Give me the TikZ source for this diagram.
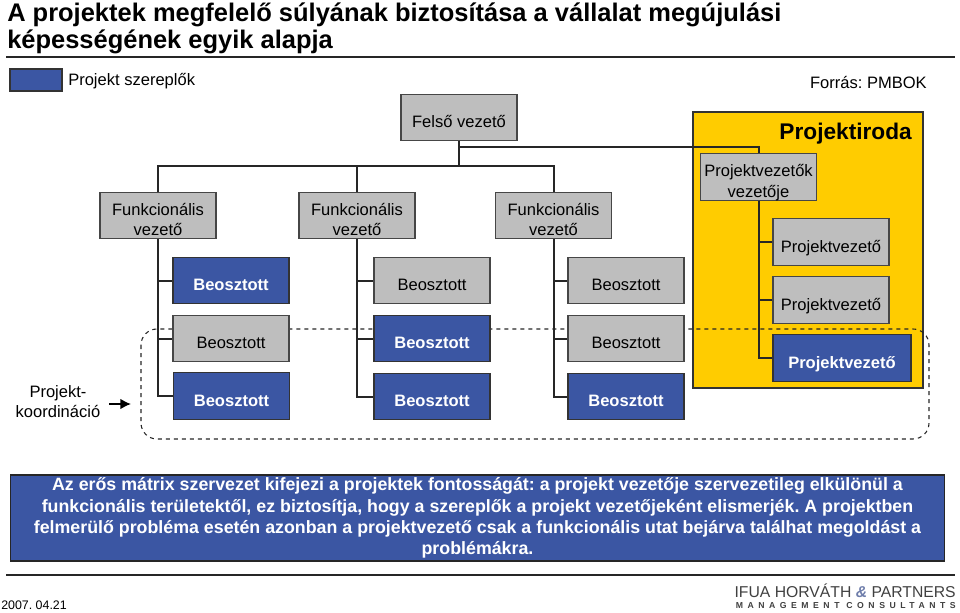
\documentclass[tikz,border=0pt]{standalone}
\usepackage{fontspec}
\usetikzlibrary{arrows.meta}
\setmainfont{Liberation Sans}
\newfontfamily\logofont[LetterSpace=52]{Liberation Sans}
\frenchspacing
\definecolor{boxblue}{RGB}{59,86,163}
\definecolor{boxgray}{RGB}{190,190,190}
\definecolor{pmoyellow}{RGB}{255,204,0}
\definecolor{edgegray}{RGB}{70,70,70}
\definecolor{logoblue}{RGB}{110,125,170}
\tikzset{
  grayrole/.style={draw=edgegray, fill=boxgray, line width=0.9pt, minimum width=87pt, minimum height=35pt, inner sep=0pt, align=center, font=\fontsize{12.4}{15}\selectfont, text height=15pt, text depth=0pt},
  bluerole/.style={grayrole, draw=black!80, fill=boxblue, text=white, font=\fontsize{12.4}{15}\selectfont\bfseries},
  twoline/.style={grayrole, text height=30pt, text depth=0pt},
  conn/.style={line width=1.5pt, black!85}
}
\begin{document}
\begin{tikzpicture}[x=0.75pt, y=-0.75pt]
\useasboundingbox (0,0) rectangle (960,613);

% title and rules
\node [anchor=west, inner sep=0pt, font=\fontsize{19.1}{20.3}\selectfont\bfseries, align=left] (title) at (7,28.5) {A projektek megfelelő súlyának biztosítása a vállalat megújulási\\képességének egyik alapja};
\coordinate (rulea) at (6,57);
\coordinate (ruleb) at (955,57);
\draw [line width=1pt, black!85] (rulea) -- (ruleb);
\coordinate (rulec) at (6,575);
\coordinate (ruled) at (955,575);
\draw [line width=1pt, black!85] (rulec) -- (ruled);

% legend
\node [bluerole, minimum width=39pt, minimum height=16.5pt] (legend) at (36,80) {};
\node [anchor=west, inner sep=0pt, font=\fontsize{12.4}{15}\selectfont] (legendtext) at (68,81.5) {Projekt szereplők};
\node [anchor=east, inner sep=0pt, font=\fontsize{12.4}{15}\selectfont] (source) at (927,82) {Forrás: PMBOK};

% project office background
\node [draw=black!80, fill=pmoyellow, line width=1pt, minimum width=172.5pt, minimum height=207pt, inner sep=0pt] (office) at (808,250) {};
\node [anchor=east, inner sep=0pt, font=\fontsize{17}{20}\selectfont\bfseries] (officetext) at (912,134) {Projektiroda};

% dashed frame
\draw [dashed, line width=0.8pt, rounded corners=12pt, black!85] (141,329) rectangle (929,439);

% boxes
\node [grayrole] (top) at (459,117.5) {Felső vezető};
\node [twoline] (func1) at (158,215.5) {Funkcionális\\vezető};
\node [twoline] (func2) at (357,215.5) {Funkcionális\\vezető};
\node [twoline] (func3) at (553.5,215.5) {Funkcionális\\vezető};

\node [bluerole] (b11) at (231,280.5) {Beosztott};
\node [grayrole] (b12) at (231,338.5) {Beosztott};
\node [bluerole] (b13) at (231.5,396) {Beosztott};
\node [grayrole] (b21) at (432,280.5) {Beosztott};
\node [bluerole] (b22) at (432,338.5) {Beosztott};
\node [bluerole] (b23) at (432,396.5) {Beosztott};
\node [grayrole] (b31) at (626,280.5) {Beosztott};
\node [grayrole] (b32) at (626,338.5) {Beosztott};
\node [bluerole] (b33) at (626,396.5) {Beosztott};

\node [twoline] (chief) at (758.5,177) {Projektvezetők\\vezetője};
\node [grayrole] (pm1) at (831,242) {Projektvezető};
\node [grayrole] (pm2) at (831,300) {Projektvezető};
\node [bluerole, minimum width=103.5pt] (pm3) at (842,358) {Projektvezető};

% connectors
\coordinate (busa) at (459,166);
\coordinate (busb) at (459,147);
\draw [conn] (top.south) -- (busa);
\draw [conn] (func1.north) |- (busa);
\draw [conn] (func2.north) -- (func2.north |- busa);
\draw [conn] (func3.north) |- (busa);
\draw [conn] (chief.north) |- (busb);

\draw [conn] (func1.south) |- (b11.west);
\draw [conn] (func1.south) |- (b12.west);
\draw [conn] (func1.south) |- (b13.west);
\draw [conn] (func2.south) |- (b21.west);
\draw [conn] (func2.south) |- (b22.west);
\draw [conn] (func2.south) |- (b23.west);
\draw [conn] (func3.south) |- (b31.west);
\draw [conn] (func3.south) |- (b32.west);
\draw [conn] (func3.south) |- (b33.west);
\draw [conn] (chief.south) |- (pm1.west);
\draw [conn] (chief.south) |- (pm2.west);
\draw [conn] (chief.south) |- (pm3.west);

% project coordination label
\node [align=center, inner sep=0pt, font=\fontsize{12.4}{15}\selectfont] (coord) at (58,402) {Projekt-\\koordináció};
\coordinate (coordtail) at (109,404);
\coordinate (coordtip) at (131,404);
\draw [-{Latex[length=8pt,width=8pt]}, line width=1.2pt] (coordtail) -- (coordtip);

% note
\node [draw=black!85, fill=boxblue, line width=0.9pt, minimum width=701pt, minimum height=64.5pt, inner sep=0pt, text=white, align=center, font=\fontsize{13.35}{16}\selectfont\bfseries] (note) at (477.5,518) {Az erős mátrix szervezet kifejezi a projektek fontosságát: a projekt vezetője szervezetileg elkülönül a\\funkcionális területektől, ez biztosítja, hogy a szereplők a projekt vezetőjeként elismerjék. A projektben\\felmerülő probléma esetén azonban a projektvezető csak a funkcionális utat bejárva találhat megoldást a\\problémákra.};

% footer
\node [anchor=west, inner sep=0pt, font=\fontsize{9.3}{11}\selectfont] (date) at (1,605) {2007. 04.21};
\node [anchor=east, inner sep=0pt, font=\fontsize{11.8}{16}\selectfont, black!75] (logo) at (956,591) {IFUA HORVÁTH \textcolor{logoblue}{\textbf{\textit{\&}}} PARTNERS};
\node [anchor=east, inner sep=0pt, font=\fontsize{6.5}{8}\selectfont\logofont\bfseries, black!75] (logosub) at (956,606) {MANAGEMENT CONSULTANTS};
\end{tikzpicture}
\end{document}
